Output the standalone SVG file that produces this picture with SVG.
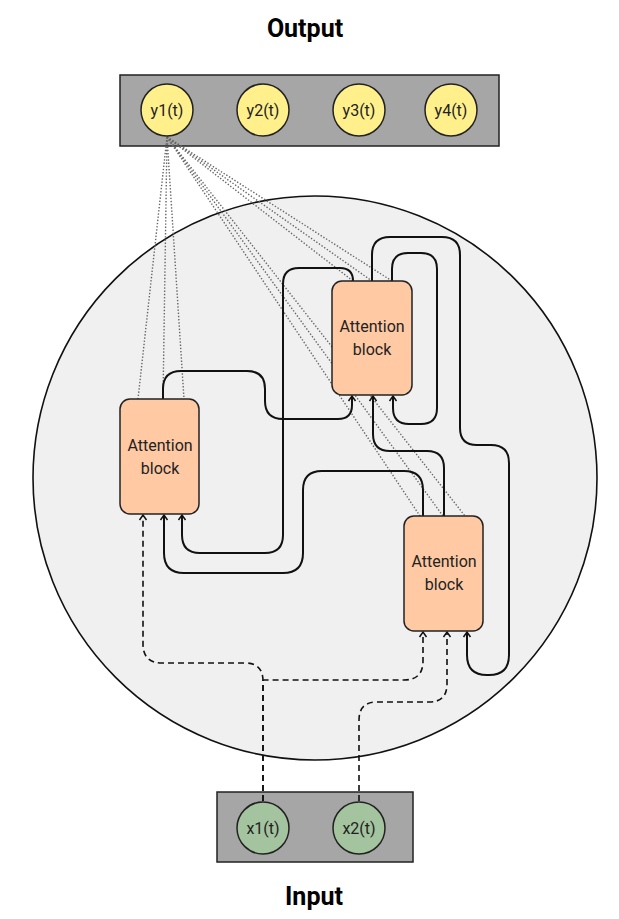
<svg xmlns="http://www.w3.org/2000/svg" width="619" height="919" viewBox="0 0 619 919">
<style>
.title{font-family:Roboto,"Liberation Sans",sans-serif;font-weight:bold;font-size:25px;fill:#000;text-anchor:middle}
.lbl{font-family:Roboto,"Liberation Sans",sans-serif;font-size:16px;fill:#222;text-anchor:middle}
.bar{fill:#a6a6a6;stroke:#222;stroke-width:1.5}
.yc{fill:#fff08c;stroke:#222;stroke-width:1.5}
.xc{fill:#a3c49f;stroke:#222;stroke-width:1.5}
.blk{fill:#ffc9a3;stroke:#222;stroke-width:1.5}
.dot{fill:none;stroke:#666;stroke-width:1.4;stroke-dasharray:1.4 1.8}
.sol{fill:none;stroke:#111;stroke-width:2}
.dsh{fill:none;stroke:#111;stroke-width:1.6;stroke-dasharray:6 4}
</style>
<defs>
<marker id="arr" markerUnits="userSpaceOnUse" markerWidth="12" markerHeight="12" viewBox="0 0 12 12" refX="10" refY="6" orient="auto">
<path d="M5,2.5 L10,6 L5,9.5" fill="none" stroke="#111" stroke-width="1.5"/>
</marker>
</defs>
<rect width="619" height="919" fill="#fff"/>
<text class="title" x="305" y="37">Output</text>
<text class="title" x="314" y="905">Input</text>
<circle id="container" cx="315" cy="478" r="282" fill="#f0f0f0" stroke="#111" stroke-width="1.6"/>
<g id="output-bar"><rect class="bar" x="120" y="75" width="379" height="71"/></g>
<g id="input-bar"><rect class="bar" x="217" y="792" width="196" height="70"/></g>
<g id="dotted">
<path class="dot" d="M167,137 L138,399"/>
<path class="dot" d="M167,137 L163,399"/>
<path class="dot" d="M167,137 L184,399"/>
<path class="dot" d="M167,137 L353,281"/>
<path class="dot" d="M167,137 L372,281"/>
<path class="dot" d="M167,137 L392,281"/>
<path class="dot" d="M167,137 L420,516"/>
<path class="dot" d="M167,137 L443,516"/>
<path class="dot" d="M167,137 L465,516"/>
</g>
<g id="y1"><circle class="yc" cx="167" cy="110" r="26"/><text class="lbl" x="167" y="116">y1(t)</text></g>
<g id="y2"><circle class="yc" cx="263" cy="110" r="26"/><text class="lbl" x="263" y="116">y2(t)</text></g>
<g id="y3"><circle class="yc" cx="359" cy="110" r="26"/><text class="lbl" x="359" y="116">y3(t)</text></g>
<g id="y4"><circle class="yc" cx="451" cy="110" r="26"/><text class="lbl" x="451" y="116">y4(t)</text></g>
<g id="connectors">
<path class="sol" marker-end="url(#arr)" d="M163,399 V389 Q163,371 181,371 H247 Q265,371 265,389 V401 Q265,419 283,419 H338 Q352,419 352,405 V396"/>
<path class="sol" marker-end="url(#arr)" d="M353,281 Q353,268 340,268 H299 Q283,268 283,284 V535 Q283,553 265,553 H200 Q182,553 182,535 V515"/>
<path class="sol" marker-end="url(#arr)" d="M372,281 V255 Q372,237 390,237 H442 Q460,237 460,255 V428 Q460,445 477,445 H491 Q509,445 509,463 V655 Q509,675 489,675 H487 Q467,675 467,655 V632"/>
<path class="sol" marker-end="url(#arr)" d="M392,281 V269 Q392,253 408,253 H421 Q437,253 437,269 V408 Q437,424 421,424 H409 Q393,424 393,408 V396"/>
<path class="sol" marker-end="url(#arr)" d="M423,516 V490 Q423,471 404,471 H322 Q303,471 303,490 V553 Q303,573 283,573 H184 Q164,573 164,553 V515"/>
<path class="sol" marker-end="url(#arr)" d="M444,516 V468 Q444,451 427,451 H390 Q373,451 373,434 V396"/>
<path class="dsh" marker-end="url(#arr)" d="M263,801 V681 Q263,663 245,663 H162 Q143,663 143,644 V515"/>
<path class="dsh" marker-end="url(#arr)" d="M263,801 V681 Q263,680 264,680 H404 Q423,680 423,661 V632"/>
<path class="dsh" marker-end="url(#arr)" d="M359,801 V720 Q359,702 377,702 H429 Q447,702 447,684 V632"/>
</g>
<g id="blockA"><rect class="blk" x="120" y="399" width="79" height="115" rx="10"/><text class="lbl" x="160" y="451">Attention</text><text class="lbl" x="160" y="474">block</text></g>
<g id="blockB"><rect class="blk" x="332" y="281" width="80" height="114" rx="10"/><text class="lbl" x="372" y="332">Attention</text><text class="lbl" x="372" y="355">block</text></g>
<g id="blockC"><rect class="blk" x="404" y="516" width="79" height="115" rx="10"/><text class="lbl" x="444" y="567">Attention</text><text class="lbl" x="444" y="590">block</text></g>
<g id="x1"><circle class="xc" cx="263" cy="828" r="26"/><text class="lbl" x="263" y="834">x1(t)</text></g>
<g id="x2"><circle class="xc" cx="359" cy="828" r="26"/><text class="lbl" x="359" y="834">x2(t)</text></g>
</svg>
